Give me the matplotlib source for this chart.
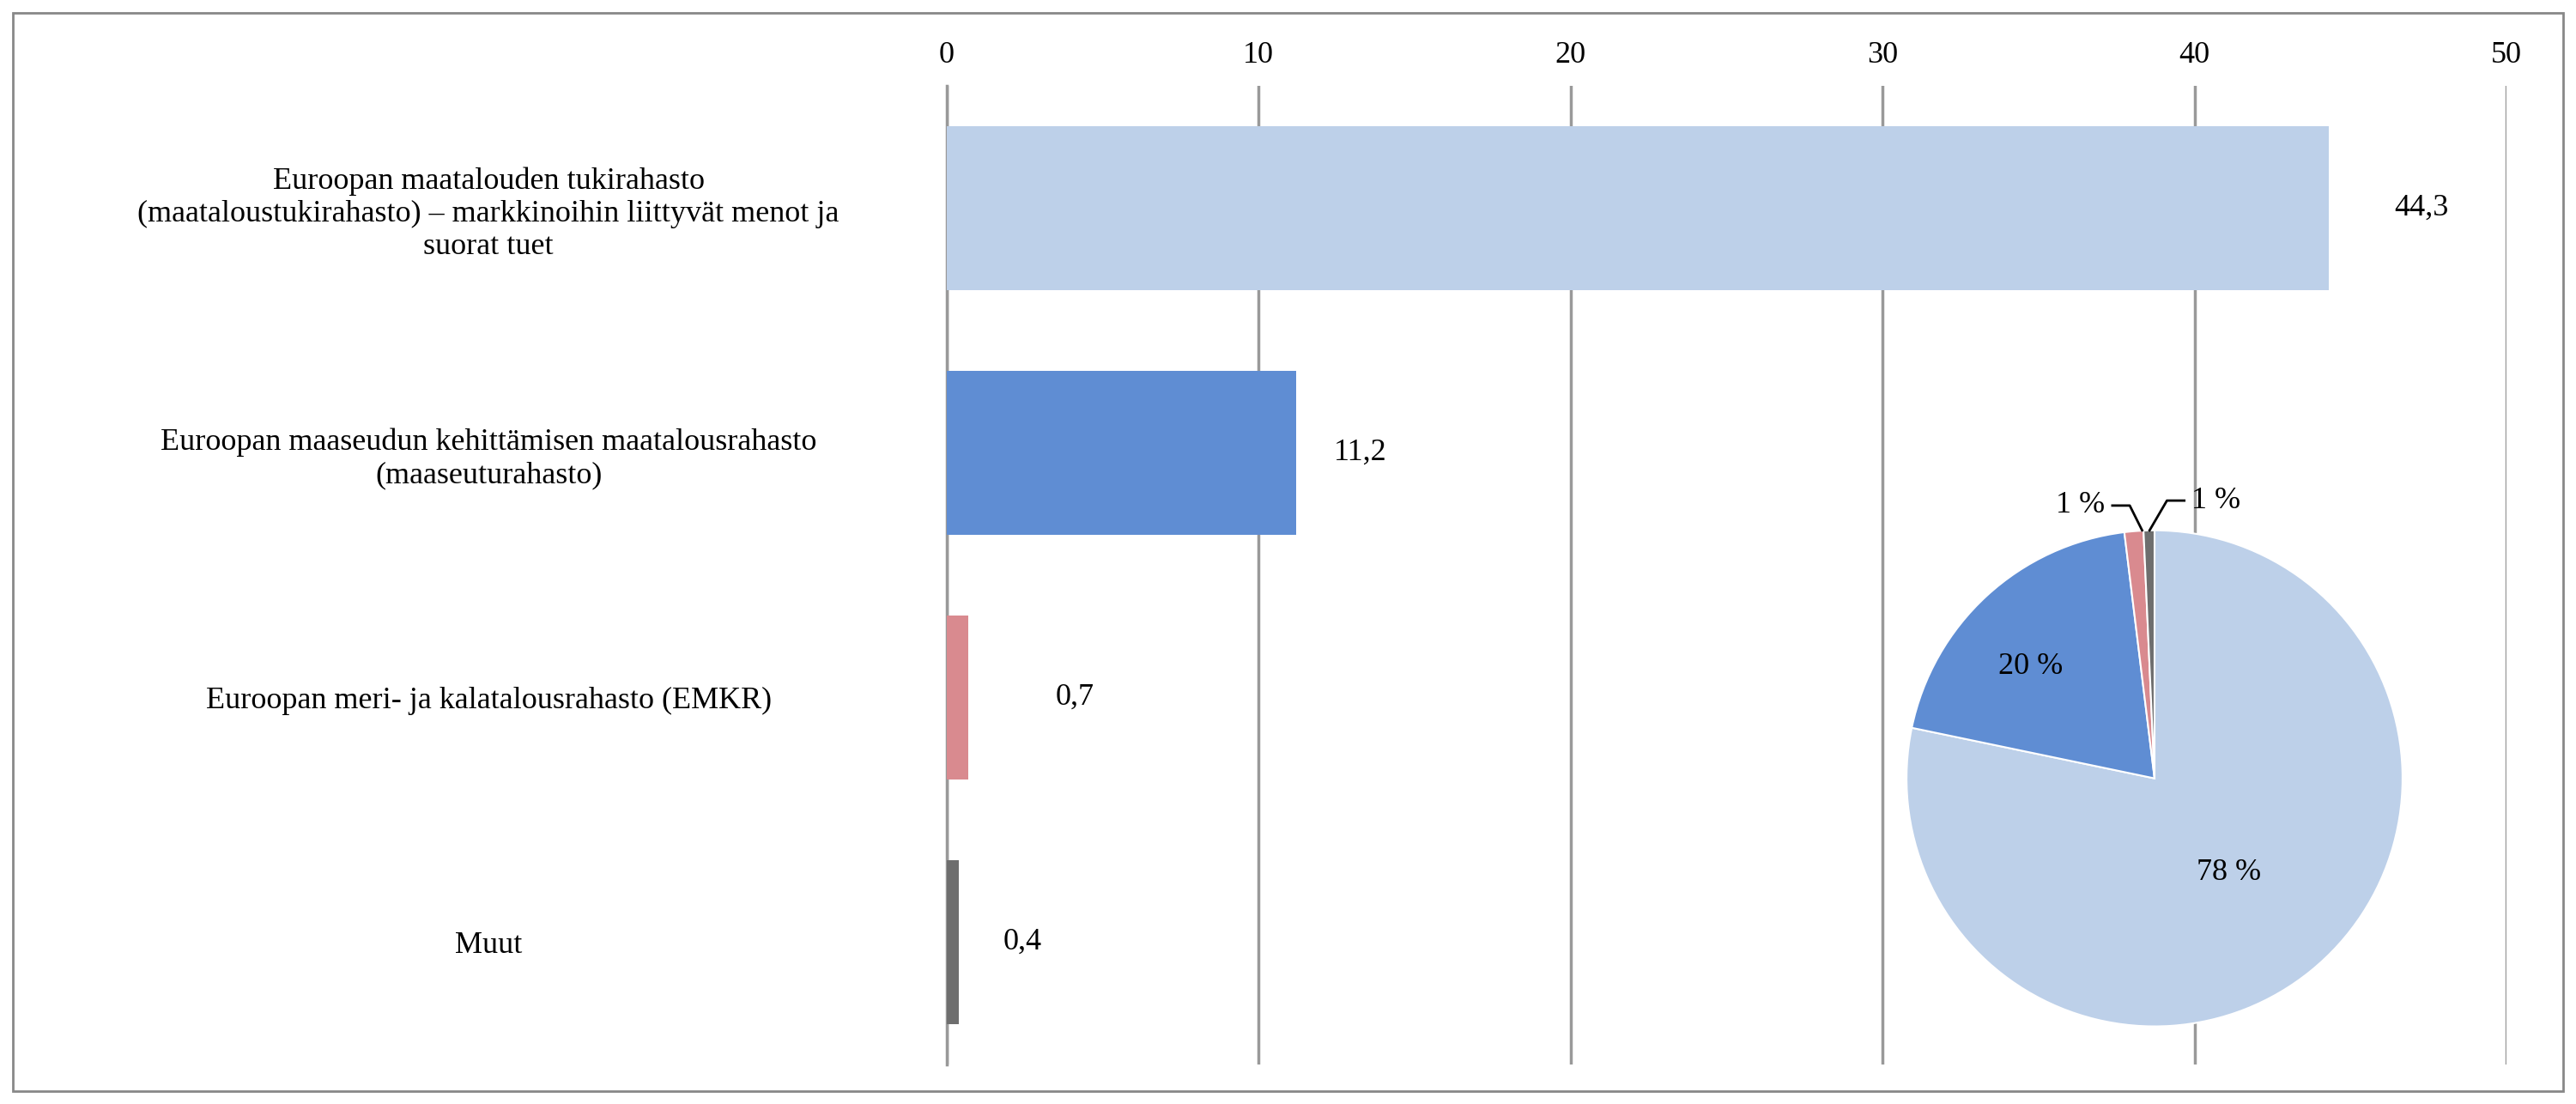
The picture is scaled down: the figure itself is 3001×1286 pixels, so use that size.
import matplotlib.pyplot as plt
from matplotlib.patches import Rectangle

categories = ["Euroopan maatalouden tukirahasto\n(maataloustukirahasto) – markkinoihin liittyvät menot ja\nsuorat tuet",
              "Euroopan maaseudun kehittämisen maatalousrahasto\n(maaseuturahasto)",
              "Euroopan meri- ja kalatalousrahasto (EMKR)",
              "Muut"]
values = [44.3, 11.2, 0.7, 0.4]
value_labels = ["44,3", "11,2", "0,7", "0,4"]
pie_labels = ["78 %", "20 %", "1 %", "1 %"]
colors = ["#BDD0E9", "#5F8DD3", "#D98A8F", "#6E6E6E"]

plt.rcParams["font.family"] = "Liberation Serif"
fig = plt.figure(figsize=(30.01, 12.86), dpi=100)
fig.patches.append(Rectangle((0.005, 0.012), 0.99, 0.976, transform=fig.transFigure,
                             fill=False, ec="#888888", lw=2))
ax = fig.add_axes([0.3675, 0.036, 0.6055, 0.886])
y = list(range(len(values)))
ax.barh(y, values, height=0.67, color=colors, zorder=3)
ax.set_ylim(3.5, -0.5)
ax.set_xlim(0, 50)
ax.set_xticks(range(0, 51, 10))
ax.xaxis.tick_top()
ax.tick_params(axis="x", length=0, labelsize=26, pad=14)
ax.tick_params(axis="y", length=0, labelsize=26, pad=18)
ax.set_yticks(y)
ax.set_yticklabels(categories, ha="center", multialignment="center")
for lab in ax.get_yticklabels():
    lab.set_x(-0.28)
ax.grid(axis="x", color="#999999", lw=2.5, zorder=0)
for s in ["top", "right", "bottom"]:
    ax.spines[s].set_visible(False)
ax.spines["left"].set_color("#999999")
ax.spines["left"].set_linewidth(2.5)
offs = [2.1, 1.2, 2.8, 1.4]
for i, (v, t) in enumerate(zip(values, value_labels)):
    ax.text(v + offs[i], i, t, va="center", ha="left", fontsize=26)

pax = fig.add_axes([2185/3001, 76/1286, 650/3001, 650/1286])
wedges, _ = pax.pie(values, colors=colors, startangle=90, counterclock=False,
                    wedgeprops=dict(ec="white", lw=1.5))
pax.set_aspect("equal")
pax.text(0.3, -0.38, pie_labels[0], ha="center", va="center", fontsize=26)
pax.text(-0.5, 0.45, pie_labels[1], ha="center", va="center", fontsize=26)
pax.plot([-0.05, -0.1, -0.17], [1.0, 1.1, 1.1], color="black", lw=2)
pax.text(-0.2, 1.1, pie_labels[2], ha="right", va="center", fontsize=26)
pax.plot([-0.02, 0.05, 0.12], [1.0, 1.12, 1.12], color="black", lw=2)
pax.text(0.15, 1.12, pie_labels[3], ha="left", va="center", fontsize=26)
pax.set_xlim(-1.05, 1.05)
pax.set_ylim(-1.05, 1.2)
fig.savefig("out.png", dpi=100)
